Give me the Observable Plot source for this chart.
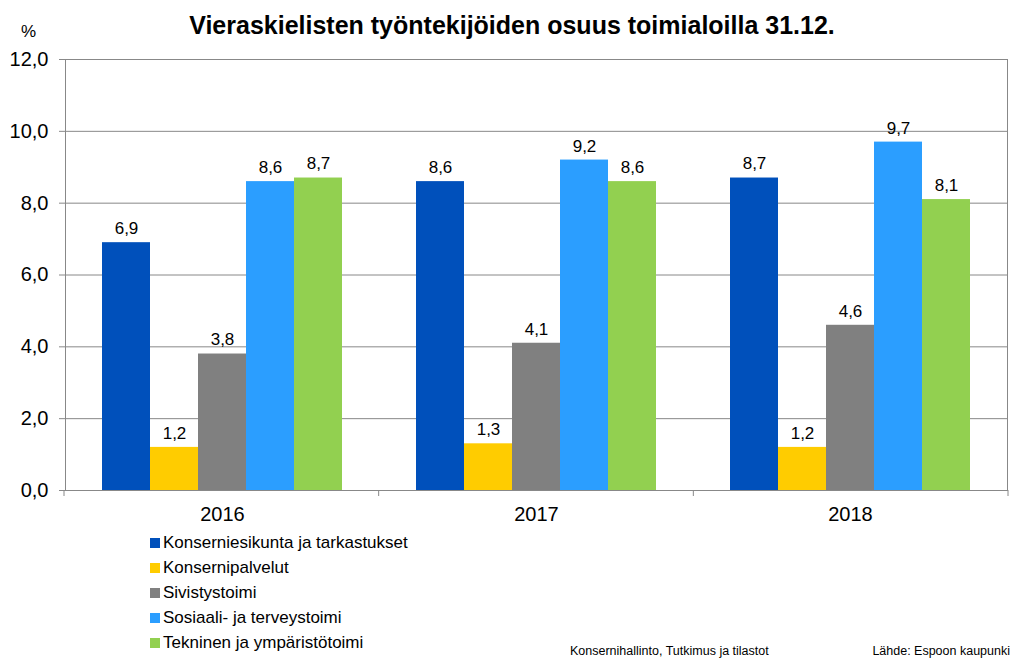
<!DOCTYPE html>
<html><head><meta charset="utf-8">
<script src="https://cdn.jsdelivr.net/npm/d3@7"></script>
<script src="https://cdn.jsdelivr.net/npm/@observablehq/plot@0.6"></script>
<style>
body{margin:0;background:#fff;font-family:"Liberation Sans",Arial,sans-serif;color:#000;}
#wrap{position:relative;width:1024px;height:668px;overflow:hidden;background:#fff}
#title{position:absolute;left:0;top:0;width:1024px;text-align:center;font-weight:bold;font-size:25px;line-height:50px}
#pct{position:absolute;left:21px;top:22px;font-size:17px}
#chart{position:absolute;left:0;top:48px}
#legend{position:absolute;left:150px;top:530px}
.item{height:25px;font-size:17px;display:flex;align-items:center;white-space:nowrap}
.sw{width:10px;height:10px;margin-right:3px;flex:none}
#cap1{position:absolute;left:570px;top:644px;font-size:12.5px}
#cap2{position:absolute;right:14px;top:644px;font-size:12.5px}
</style></head>
<body><div id="wrap">
<div id="title">Vieraskielisten työntekijöiden osuus toimialoilla 31.12.</div>
<div id="pct">%</div>
<div id="chart"></div>
<div id="legend"></div>
<div id="cap1">Konsernihallinto, Tutkimus ja tilastot</div>
<div id="cap2">Lähde: Espoon kaupunki</div>
</div>
<script>
const years = ["2016", "2017", "2018"];
const series = ["Konserniesikunta ja tarkastukset", "Konsernipalvelut", "Sivistystoimi", "Sosiaali- ja terveystoimi", "Tekninen ja ympäristötoimi"];
const colors = ["#0050BB", "#FFCC00", "#808080", "#2B9EFF", "#92D050"];
const v2016 = [6.9, 1.2, 3.8, 8.6, 8.7];
const v2017 = [8.6, 1.3, 4.1, 9.2, 8.6];
const v2018 = [8.7, 1.2, 4.6, 9.7, 8.1];
const yTicks = [0, 2, 4, 6, 8, 10, 12];

const byYear = [v2016, v2017, v2018];
const rows = years.flatMap((yr, i) => series.map((s, j) => ({year: yr, series: s, value: byYear[i][j]})));
const fmt = d => d.toFixed(1).replace(".", ",");
const gray = "#888888";

const plot = Plot.plot({
  width: 1024, height: 482,
  marginTop: 11, marginBottom: 40, marginLeft: 64, marginRight: 16,
  fx: {domain: years, padding: 0, label: null},
  x: {domain: series, paddingInner: 0, paddingOuter: 0.74, axis: null},
  y: {domain: [0, 12], label: null},
  color: {domain: series, range: colors},
  style: {fontFamily: "Liberation Sans, Arial, sans-serif", fontSize: "18px", color: "#000", background: "#fff"},
  marks: [
    Plot.gridY(yTicks, {stroke: gray, strokeOpacity: 1}),
    Plot.barY(rows, {fx: "year", x: "series", y: "value", fill: "series"}),
    Plot.text(rows, {fx: "year", x: "series", y: "value", text: d => fmt(d.value), dy: -14, fontSize: 17}),
    Plot.frame({facet: "super", stroke: gray}),
    Plot.axisY(yTicks, {tickFormat: fmt, tickSize: 6, tickPadding: 11, fontSize: 20, stroke: gray, label: null}),
    Plot.axisFx({anchor: "bottom", tickSize: 0, tickPadding: 16, fontSize: 20, label: null})
  ]
});
document.getElementById("chart").appendChild(plot);

// tick marks at the category group boundaries, from the fx scale
const fxs = plot.scale("fx");
const ys = plot.scale("y");
const x0 = fxs.range[0], x1 = fxs.range[1];
const step = (x1 - x0) / years.length;
const yb = ys.range[0];
const edges = d3.range(years.length + 1).map(k => x0 + k * step);
d3.select(plot).append("g")
  .attr("stroke", gray)
  .selectAll("line").data(edges).join("line")
  .attr("x1", d => d).attr("x2", d => d)
  .attr("y1", yb).attr("y2", yb + 6);

const lg = d3.select("#legend");
series.forEach((s, i) => {
  const it = lg.append("div").attr("class", "item");
  it.append("div").attr("class", "sw").style("background", colors[i]);
  it.append("span").text(s);
});
</script>
</body></html>
